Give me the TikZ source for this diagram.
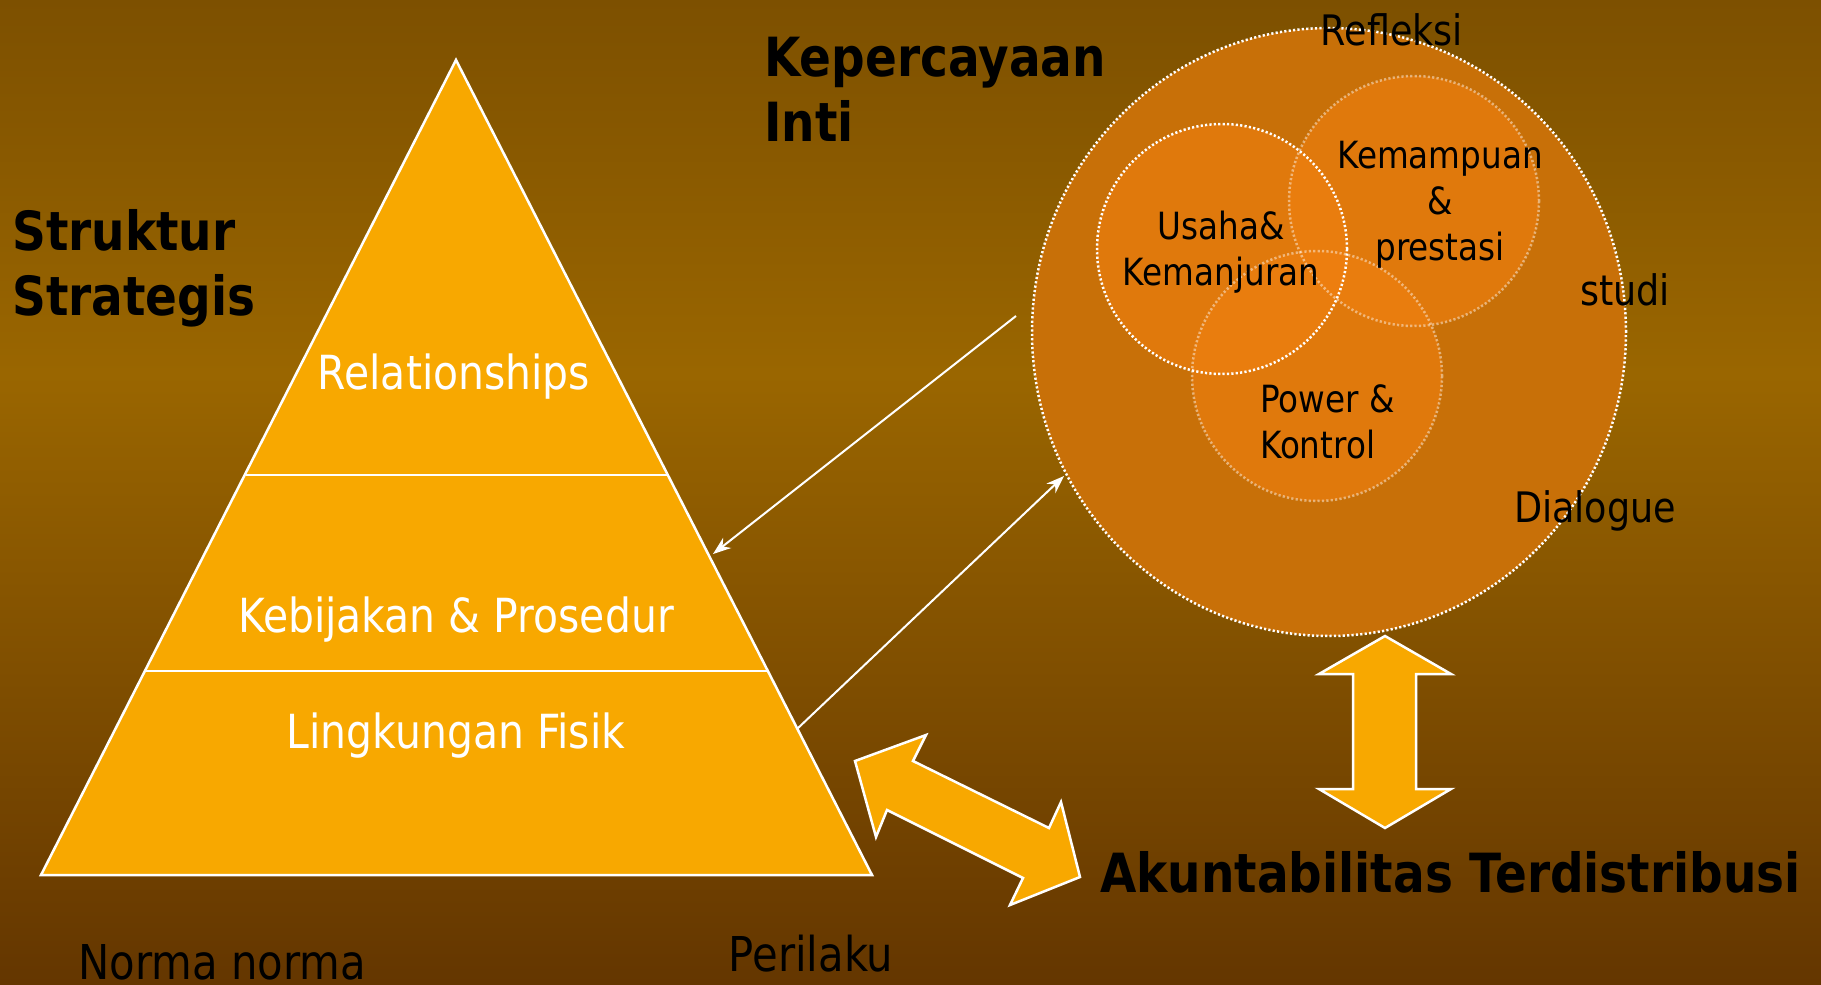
\documentclass[tikz,border=0pt]{standalone}
\usepackage{fontspec}
\setmainfont{DejaVu Sans}[FakeStretch=0.87]
\usetikzlibrary{arrows.meta}
\definecolor{bgtop}{RGB}{125,80,0}
\definecolor{bgmid}{RGB}{154,102,0}
\definecolor{bgbot}{RGB}{100,54,0}
\definecolor{pyr}{RGB}{248,168,0}
\definecolor{bigc}{RGB}{200,112,8}
\definecolor{smallc}{RGB}{240,128,16}
\pgfdeclareverticalshading{bgshade}{100bp}{color(0bp)=(bgbot); color(25bp)=(bgbot); color(56bp)=(bgmid); color(75bp)=(bgtop); color(100bp)=(bgtop)}
\begin{document}
\begin{tikzpicture}[x=1pt,y=-1pt,
  pyrshape/.style={fill=pyr, draw=white, line width=2.5pt, line join=miter},
  pyrline/.style={draw=white, line width=2.5pt},
  dotline/.style={draw=white, line width=2.5pt, dash pattern=on 2.2pt off 2.2pt},
  thinarrow/.style={draw=white, line width=2pt, -{Stealth[length=18pt,width=13pt]}},
  pyrtext/.style={text=white, font=\fontsize{47}{56}\selectfont, inner sep=0pt},
  headtext/.style={text=black, font=\bfseries\fontsize{54}{65}\selectfont, align=left, inner sep=0pt},
  circtext/.style={text=black, font=\fontsize{37.5}{46}\selectfont, inner sep=0pt},
  sidetext/.style={text=black, font=\fontsize{42}{50}\selectfont, inner sep=0pt},
  bottext/.style={text=black, font=\fontsize{48}{56}\selectfont, inner sep=0pt}]
\useasboundingbox (0,0) rectangle (1821,985);
\shade[shading=bgshade] (0,0) rectangle (1821,985);

% pyramid
\coordinate (apex) at (456,60);
\coordinate (bl) at (41,875);
\coordinate (br) at (872,875);
\coordinate (d1l) at (246,475);
\coordinate (d1r) at (667,475);
\coordinate (d2l) at (145,671);
\coordinate (d2r) at (767,671);
\path[pyrshape] (apex) -- (br) -- (bl) -- cycle;
\draw[pyrline] (d1l) -- (d1r);
\draw[pyrline] (d2l) -- (d2r);
\node[pyrtext] (rel) at (454,377) {Relationships};
\node[pyrtext] (keb) at (456,620) {Kebijakan \& Prosedur};
\node[pyrtext] (lin) at (456,736) {Lingkungan Fisik};

% circles
\fill[bigc] (1329,332) ellipse[x radius=297pt, y radius=304pt];
\draw[dotline] (1329,332) ellipse[x radius=297pt, y radius=304pt];
\fill[smallc, fill opacity=0.6] (1414,201) circle[radius=125pt];
\fill[smallc, fill opacity=0.6] (1317,376) circle[radius=125pt];
\fill[smallc, fill opacity=0.6] (1222,249) circle[radius=125pt];
\draw[dotline, draw opacity=0.45] (1414,201) circle[radius=125pt];
\draw[dotline, draw opacity=0.45] (1317,376) circle[radius=125pt];
\draw[dotline] (1222,249) circle[radius=125pt];

\node[circtext, align=center] (usaha) at (1221,252) {Usaha\&\\Kemanjuran};
\node[circtext, align=center] (kemam) at (1440,205) {Kemampuan\\\&\\prestasi};
\node[circtext, align=left, anchor=west] (power) at (1260,422) {Power \&\\Kontrol};

\node[sidetext] (refl) at (1392,30) {Refleksi};
\node[sidetext] (studi) at (1625,290) {studi};
\node[sidetext] (dial) at (1595,511) {Dialogue};

% headings
\node[headtext, anchor=west] (struk) at (12,268) {Struktur\\Strategis};
\node[headtext, anchor=west] (kep) at (764,89) {Kepercayaan\\Inti};
\node[headtext, anchor=west] (akun) at (1100,872) {Akuntabilitas Terdistribusi};

\node[bottext, anchor=base] (norma) at (222,979) {Norma norma};
\node[bottext, anchor=base] (peri) at (811,971) {Perilaku};

% thin arrows
\coordinate (a1s) at (1016,316);
\coordinate (a1e) at (713,554);
\coordinate (a2s) at (797,729);
\coordinate (a2e) at (1064,476);
\draw[thinarrow] (a1s) -- (a1e);
\draw[thinarrow] (a2s) -- (a2e);

% vertical double arrow
\path[pyrshape] (1385,636) -- (1451,674) -- (1416,674) -- (1416,789) -- (1451,789)
  -- (1385,828) -- (1319,789) -- (1353,789) -- (1353,674) -- (1319,674) -- cycle;

% diagonal double arrow
\path[pyrshape] (855,761) -- (926,735) -- (913,761) -- (1049,828) -- (1061,802)
  -- (1080,877) -- (1010,905) -- (1023,878) -- (887,810) -- (876,837) -- cycle;
\end{tikzpicture}
\end{document}
